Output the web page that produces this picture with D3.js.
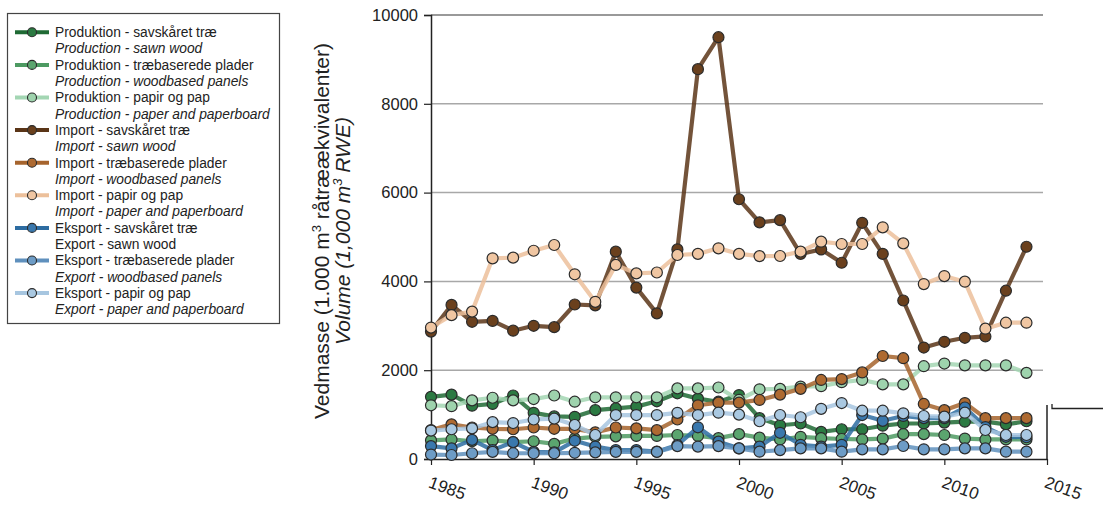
<!DOCTYPE html>
<html>
<head>
<meta charset="utf-8">
<script src="https://cdn.jsdelivr.net/npm/d3@7"></script>
<style>
  html, body { margin: 0; padding: 0; background: #fff; }
  svg { display: block; font-family: "Liberation Sans", Arial, sans-serif; }
</style>
</head>
<body>
<svg id="chart" width="1103" height="510"></svg>
<script>
// ---------- DATA ----------
const years = [1985,1986,1987,1988,1989,1990,1991,1992,1993,1994,1995,1996,1997,1998,1999,
               2000,2001,2002,2003,2004,2005,2006,2007,2008,2009,2010,2011,2012,2013,2014];

const prodSawn    = [1400,1450,1200,1240,1430,1040,960,950,1100,1140,1180,1300,1480,1360,1290,
                     1440,920,760,800,610,670,670,750,800,800,820,840,840,780,850];
const prodPanels  = [420,440,400,420,380,400,340,460,500,510,520,520,540,520,470,
                     560,480,440,500,470,450,440,460,560,560,540,460,440,440,440];
const prodPaper   = [1210,1190,1320,1380,1320,1350,1430,1290,1390,1390,1390,1390,1590,1590,1610,
                     1330,1570,1580,1630,1640,1730,1780,1680,1680,2090,2150,2110,2110,2110,1940];
const importSawn  = [2870,3470,3090,3110,2890,3000,2970,3480,3460,4670,3860,3280,4720,8780,9500,
                     5850,5330,5380,4620,4720,4420,5320,4620,3570,2510,2640,2730,2760,3790,4780];
const importPanels= [650,780,710,680,670,710,680,680,600,710,690,650,890,1210,1270,
                     1270,1330,1450,1580,1780,1800,1950,2320,2270,1240,1100,1260,920,920,920];
const importPaper = [2960,3240,3320,4520,4535,4690,4820,4160,3540,4370,4180,4200,4595,4620,4745,
                     4620,4570,4572,4670,4895,4842,4842,5218,4857,3940,4120,3994,2935,3070,3070];
const exportSawn  = [290,240,430,200,380,160,150,410,280,200,200,165,315,714,390,
                     240,278,590,320,278,320,990,860,970,920,920,1160,720,500,490];
const exportPanels= [100,90,130,160,130,130,130,140,150,160,160,160,290,280,290,
                     240,165,200,240,240,165,218,218,293,218,218,240,240,165,165];
const exportPaper = [640,670,690,830,810,890,910,766,540,990,990,990,1040,990,1043,
                     1000,850,991,940,1130,1260,1088,1088,1029,968,953,1043,653,540,540];

const yTicks = [0,2000,4000,6000,8000,10000];
const xTicks = [1985,1990,1995,2000,2005,2010,2015];

const seriesDa = ["Produktion - savskåret træ","Produktion - træbaserede plader","Produktion - papir og pap",
                  "Import - savskåret træ","Import - træbaserede plader","Import - papir og pap",
                  "Eksport - savskåret træ","Eksport - træbaserede plader","Eksport - papir og pap"];
const seriesEn = ["Production - sawn wood","Production - woodbased panels","Production - paper and paperboard",
                  "Import - sawn wood","Import - woodbased panels","Import - paper and paperboard",
                  "Export - sawn wood","Export - woodbased panels","Export - paper and paperboard"];
const seriesEnItalic = [true,true,true,true,true,true,false,true,true];
const seriesValues = [prodSawn,prodPanels,prodPaper,importSawn,importPanels,importPaper,exportSawn,exportPanels,exportPaper];
const lineColors = ["#1f6a34","#4d9a62","#a3d6b3","#5a3517","#a6642d","#ecc09b","#2d6ca1","#5f90bd","#a7c6e0"];
const fillColors = ["#2b7a42","#5ba56f","#9ed3ad","#6a401d","#ae6a31","#f0c6a2","#3a78ad","#6d9cc6","#a9c8e1"];

// ---------- LAYOUT ----------
const svg = d3.select("#chart");
const x = d3.scaleLinear().domain([1985, 2015]).range([431, 1047]);
const y = d3.scaleLinear().domain([0, 10000]).range([459, 15]);

// gridlines
svg.append("g").selectAll("line").data(yTicks.filter(d => d > 0)).join("line")
  .attr("x1", x(1985)).attr("x2", 1043)
  .attr("y1", d => y(d)).attr("y2", d => y(d))
  .attr("stroke", d => d === 10000 ? "#777" : "#a8a8a8").attr("stroke-width", 1.5);

// y axis
const yAxis = svg.append("g").attr("transform", `translate(${x(1985)},0)`)
  .call(d3.axisLeft(y).tickValues(yTicks).tickSize(7).tickPadding(6).tickFormat(d3.format("d")));
yAxis.select(".domain").attr("stroke", "#222").attr("stroke-width", 1.5);
yAxis.selectAll(".tick line").attr("stroke", "#222").attr("stroke-width", 1.2);
yAxis.selectAll("text").attr("font-size", 16.5).attr("fill", "#222")
  .attr("font-family", "Liberation Sans, Arial, sans-serif");

// x axis
const xAxis = svg.append("g").attr("transform", `translate(0,${y(0)})`)
  .call(d3.axisBottom(x).tickValues(xTicks).tickSize(6).tickSizeOuter(0).tickFormat(d3.format("d")));
xAxis.select(".domain").attr("stroke", "#222").attr("stroke-width", 1.5);
xAxis.selectAll(".tick line").attr("stroke", "#222").attr("stroke-width", 1.2);
xAxis.selectAll("text")
  .attr("font-size", 17).attr("fill", "#222")
  .attr("font-family", "Liberation Sans, Arial, sans-serif")
  .attr("text-anchor", "start")
  .attr("y", 0).attr("dy", 0)
  .attr("transform", "translate(-4,28) rotate(20)");

// right-side stray axis fragment (as in reference)
svg.append("line").attr("x1", x(2015)).attr("x2", x(2015)).attr("y1", 405).attr("y2", y(0))
  .attr("stroke", "#222").attr("stroke-width", 1.5);
svg.append("path").attr("d", "M1052,404 V408.5 H1103")
  .attr("fill", "none").attr("stroke", "#222").attr("stroke-width", 1.3);

// y axis title
const yt = svg.append("text").attr("transform", "translate(329,231) rotate(-90)")
  .attr("text-anchor", "middle").attr("font-size", 21).attr("fill", "#222");
yt.append("tspan").text("Vedmasse (1.000 m");
yt.append("tspan").attr("dy", -8).attr("font-size", 13).text("3");
yt.append("tspan").attr("dy", 8).text(" råtræækvivalenter)");
const yt2 = svg.append("text").attr("transform", "translate(350,231) rotate(-90)")
  .attr("text-anchor", "middle").attr("font-size", 21).attr("fill", "#222").attr("font-style", "italic");
yt2.append("tspan").text("Volume (1,000 m");
yt2.append("tspan").attr("dy", -8).attr("font-size", 13).text("3");
yt2.append("tspan").attr("dy", 8).text(" RWE)");

// series
const line = d3.line().x((d, i) => x(years[i])).y(d => y(d));
seriesValues.forEach((vals, s) => {
  const g = svg.append("g");
  g.append("path").datum(vals).attr("d", line)
    .attr("fill", "none").attr("stroke", lineColors[s]).attr("stroke-width", 4.2)
    .attr("stroke-opacity", 0.85).attr("stroke-linejoin", "round");
  g.selectAll("circle").data(vals).join("circle")
    .attr("cx", (d, i) => x(years[i])).attr("cy", d => y(d)).attr("r", 5.5)
    .attr("fill", fillColors[s]).attr("stroke", "#2b2b2b").attr("stroke-width", 1.2);
});

// legend
const lg = svg.append("g");
lg.append("rect").attr("x", 7.5).attr("y", 13.5).attr("width", 272).attr("height", 310)
  .attr("fill", "#fff").attr("stroke", "#444").attr("stroke-width", 1.2);
seriesDa.forEach((name, i) => {
  const cy = 32.3 + i * 32.6;
  lg.append("line").attr("x1", 15).attr("x2", 49).attr("y1", cy).attr("y2", cy)
    .attr("stroke", lineColors[i]).attr("stroke-width", 4);
  lg.append("circle").attr("cx", 32).attr("cy", cy).attr("r", 4.5)
    .attr("fill", fillColors[i]).attr("stroke", "#2b2b2b").attr("stroke-width", 1.1);
  lg.append("text").attr("x", 55).attr("y", cy + 4.8).attr("font-size", 13.8).attr("fill", "#222").text(name);
  lg.append("text").attr("x", 55).attr("y", cy + 21).attr("font-size", 13.8).attr("fill", "#222")
    .attr("font-style", seriesEnItalic[i] ? "italic" : "normal").text(seriesEn[i]);
});
</script>
</body>
</html>
